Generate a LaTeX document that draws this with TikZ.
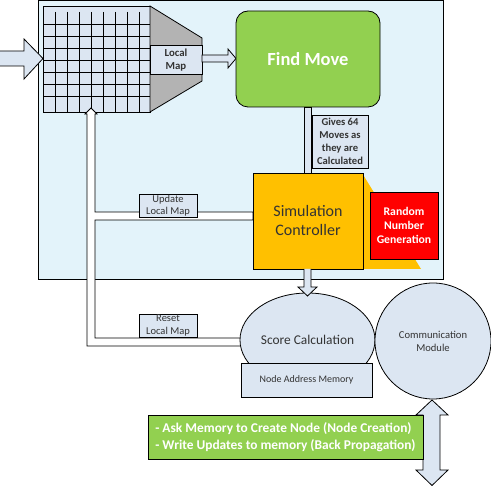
\documentclass[tikz,border=0pt]{standalone}
\usepackage{fontspec}
\setmainfont{Carlito}
\usetikzlibrary{shapes.geometric}
\definecolor{bgblue}{HTML}{E3F3FA}
\definecolor{boxfill}{HTML}{DCE6F2}
\definecolor{mapgray}{HTML}{B3B3B3}
\definecolor{fmgreen}{HTML}{92D050}
\definecolor{simyellow}{HTML}{FFC000}
\definecolor{rngred}{HTML}{FF0000}
\definecolor{txtdark}{HTML}{333333}
\begin{document}
\begin{tikzpicture}[x=1pt,y=-1pt,line width=0.8pt,
  lbl/.style={draw,fill=boxfill,inner sep=0pt,align=center,text=txtdark},
  blockarrow/.style={draw,fill=boxfill},
  wirearrow/.style={draw,fill=white}]
\useasboundingbox (0,0) rectangle (491,486);
% background panel
\draw[fill=bgblue] (38,0.5) rectangle (443,279);
% input arrow
\draw[blockarrow] (0,51) -- (24,51) -- (24,39) -- (43,58.5) -- (24,79) -- (24,66) -- (0,66);
% grid
\draw[fill=boxfill] (43,6) rectangle (150,112);
\foreach \gx in {55,67,79,91,103,115,127,139} \draw (\gx,12) -- (\gx,112);
\foreach \gy in {24,36,48,60,72,84,96} \draw (43,\gy) -- (150,\gy);
% funnel
\draw[fill=mapgray] (150,6) -- (202,38) -- (202,81) -- (150,112) -- cycle;
\node[lbl,minimum width=52pt,minimum height=28.5pt,font=\fontsize{10.8}{13}\selectfont\bfseries] (lmap) at (176,60) {Local\\Map};
% arrow map -> find move
\draw[blockarrow] (202,55) -- (228,55) -- (228,49) -- (236,58.5) -- (228,68) -- (228,62) -- (202,62) -- cycle;
% find move
\node[draw,fill=fmgreen,rounded corners=12pt,minimum width=144pt,minimum height=96pt,text=white,font=\fontsize{18.5}{22}\selectfont\bfseries] (fm) at (308,59) {Find Move};
% find move -> sim connector
\draw[blockarrow] (304,107) rectangle (311,173);
\node[lbl,minimum width=56pt,minimum height=53pt,font=\fontsize{10.6}{13.2}\selectfont\bfseries] (gives) at (340,141.5) {Gives 64\\Moves as\\they are\\Calculated};
% left wire connectors (update / reset)
\draw[wirearrow] (85,114) -- (91,108) -- (97,114) -- (95,114) -- (95,212) -- (253,212) -- (253,220) -- (95,220) -- (95,338) -- (242,338) -- (242,346) -- (87,346) -- (87,114) -- cycle;
\node[lbl,minimum width=58pt,minimum height=23pt,font=\fontsize{10.5}{12.3}\selectfont] (upd) at (168,205.5) {Update\\Local Map};
\node[lbl,minimum width=58pt,minimum height=23pt,font=\fontsize{10.5}{12.3}\selectfont] (rst) at (168,325.5) {Reset\\Local Map};
% simulation controller
\fill[simyellow] (362,173) -- (421,269) -- (362,269) -- cycle;
\node[draw,fill=simyellow,minimum width=110pt,minimum height=96pt,align=center,text=txtdark,font=\fontsize{16}{19}\selectfont] (sim) at (308,221) {Simulation\\Controller};
\node[draw,fill=rngred,minimum width=68pt,minimum height=67pt,align=center,text=white,font=\fontsize{11.7}{14}\selectfont\bfseries] (rng) at (404,225.5) {Random\\Number\\Generation};
% score calculation
\node[draw,fill=boxfill,ellipse,minimum width=135pt,minimum height=94pt,inner sep=0pt,text=txtdark,font=\fontsize{13.4}{16}\selectfont] (score) at (307.5,340) {Score Calculation};
\draw[blockarrow] (304,269) -- (304,287) -- (298,287) -- (307.5,296) -- (317,287) -- (311,287) -- (311,269);
\node[lbl,minimum width=131pt,minimum height=34pt,font=\fontsize{10}{12}\selectfont] (nam) at (306.5,380) {Node Address Memory};
% communication module
\node[draw,fill=boxfill,circle,minimum size=116pt,inner sep=0pt,align=center,text=txtdark,font=\fontsize{10.6}{13}\selectfont] (comm) at (433,341) {Communication\\Module};
% bidirectional arrow
\draw[blockarrow] (432,400) -- (448,415) -- (440,415) -- (440,470) -- (448,470) -- (432,485.5) -- (416,470) -- (423,470) -- (423,415) -- (416,415) -- cycle;
% green note
\node[draw,fill=fmgreen,minimum width=275pt,minimum height=44pt,inner sep=0pt,align=left,text=white,font=\fontsize{13.4}{16.5}\selectfont\bfseries] (note) at (285.5,437) {- Ask Memory to Create Node (Node Creation)\\- Write Updates to memory (Back Propagation)};
\end{tikzpicture}
\end{document}
